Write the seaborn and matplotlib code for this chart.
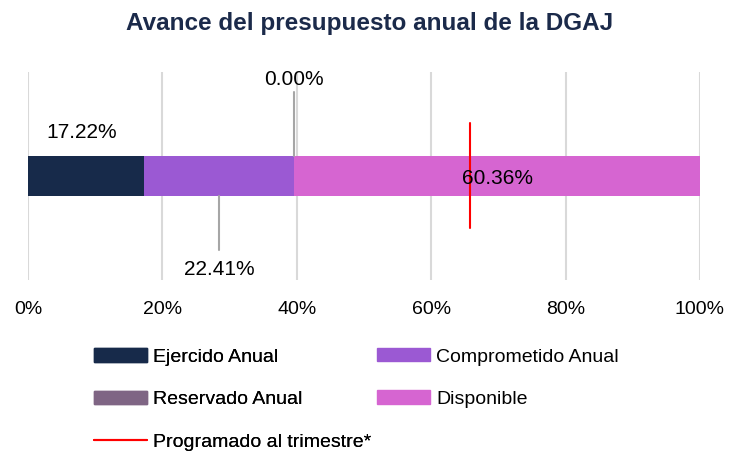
import matplotlib
matplotlib.use("Agg")
import matplotlib.pyplot as plt
import seaborn as sns
import pandas as pd
from matplotlib.patches import Patch
from matplotlib.lines import Line2D

categories = ["Ejercido Anual", "Comprometido Anual", "Reservado Anual", "Disponible"]
values = [17.22, 22.41, 0.00, 60.36]
colors = ["#172a4a", "#9b59d3", "#7f6584", "#d665d1"]
programado_label = "Programado al trimestre*"
programado = 65.8
xticks = [0, 20, 40, 60, 80, 100]
xtick_labels = ["0%", "20%", "40%", "60%", "80%", "100%"]
title = "Avance del presupuesto anual de la DGAJ"

sns.set_theme(style="white")
REG = ["Liberation Sans", "DejaVu Sans"]
plt.rcParams["font.family"] = REG
plt.rcParams["text.color"] = "#000000"

W, H = 730, 454
fig = plt.figure(figsize=(W/100, H/100), dpi=100)
ax = fig.add_axes([28/W, (H-280)/H, 672/W, 208/H])

cum = []
s = 0
for v in values:
    s += v
    cum.append(s)
df = pd.DataFrame({"cat": categories, "cum": cum, "val": values})

# stacked bar: draw cumulative totals, largest first
for i in [3, 2, 1, 0]:
    sns.barplot(x=[df["cum"][i]], y=["DGAJ"], orient="h", color=colors[i],
                width=0.4, ax=ax, saturation=1, linewidth=0)

ax.set_ylim(1.04, -1.04)
ax.set_xlim(0, 100)
ax.set_xticks(xticks)
ax.set_xticklabels(xtick_labels, fontsize=14, color="#000000")
ax.tick_params(axis="x", length=0, pad=15)
ax.set_yticks([])
ax.set_ylabel("")
ax.set_xlabel("")
for sp in ax.spines.values():
    sp.set_visible(False)
ax.grid(False)
for t in xticks:
    ax.axvline(t, color="#d9d9d9", lw=1.5, zorder=0)

trans = ax.get_xaxis_transform()
ax.plot([programado, programado], [0.25, 0.755], transform=trans, color="#ff0000", lw=1.5, zorder=5)

lbl_kw = dict(fontsize=15, color="#000000", ha="center", va="center")
ax.text(cum[0]/2 - 0.6, 0.707, f"{values[0]:.2f}%", transform=trans, **lbl_kw)
xc = cum[0] + values[1]/2
ax.plot([xc, xc], [0.404, 0.144], transform=trans, color="#a6a6a6", lw=1.5)
ax.text(xc, 0.05, f"{values[1]:.2f}%", transform=trans, **lbl_kw)
xr = cum[2]
ax.plot([xr, xr], [0.596, 0.904], transform=trans, color="#a6a6a6", lw=1.5)
ax.text(xr, 0.966, f"{values[2]:.2f}%", transform=trans, **lbl_kw)
ax.text(cum[2] + values[3]/2, 0.49, f"{values[3]:.2f}%", transform=trans, zorder=6, **lbl_kw)

fig.text(370/W, 1 - 30/H, title, ha="center", va="baseline", fontsize=17.5,
         fontweight="bold", color="#1b2a4a")

leg_kw = dict(frameon=False, prop={"size": 14}, handlelength=2.73, handleheight=0.67,
              handletextpad=0.3, labelspacing=1.28, borderaxespad=0, borderpad=0,
              loc="center left", labelcolor="#000000")
h1 = [Patch(color=colors[0], label=categories[0]),
      Patch(color=colors[2], label=categories[2]),
      Line2D([0], [0], color="#ff0000", lw=1.5, label=programado_label)]
h2 = [Patch(color=colors[1], label=categories[1]),
      Patch(color=colors[3], label=categories[3])]
leg1 = fig.legend(handles=h1, bbox_to_anchor=(94/W, 1 - 399.5/H), **leg_kw)
fig.add_artist(leg1)
fig.legend(handles=h2, bbox_to_anchor=(377/W, 1 - 378/H), **leg_kw)

fig.savefig("out.png", dpi=100)
